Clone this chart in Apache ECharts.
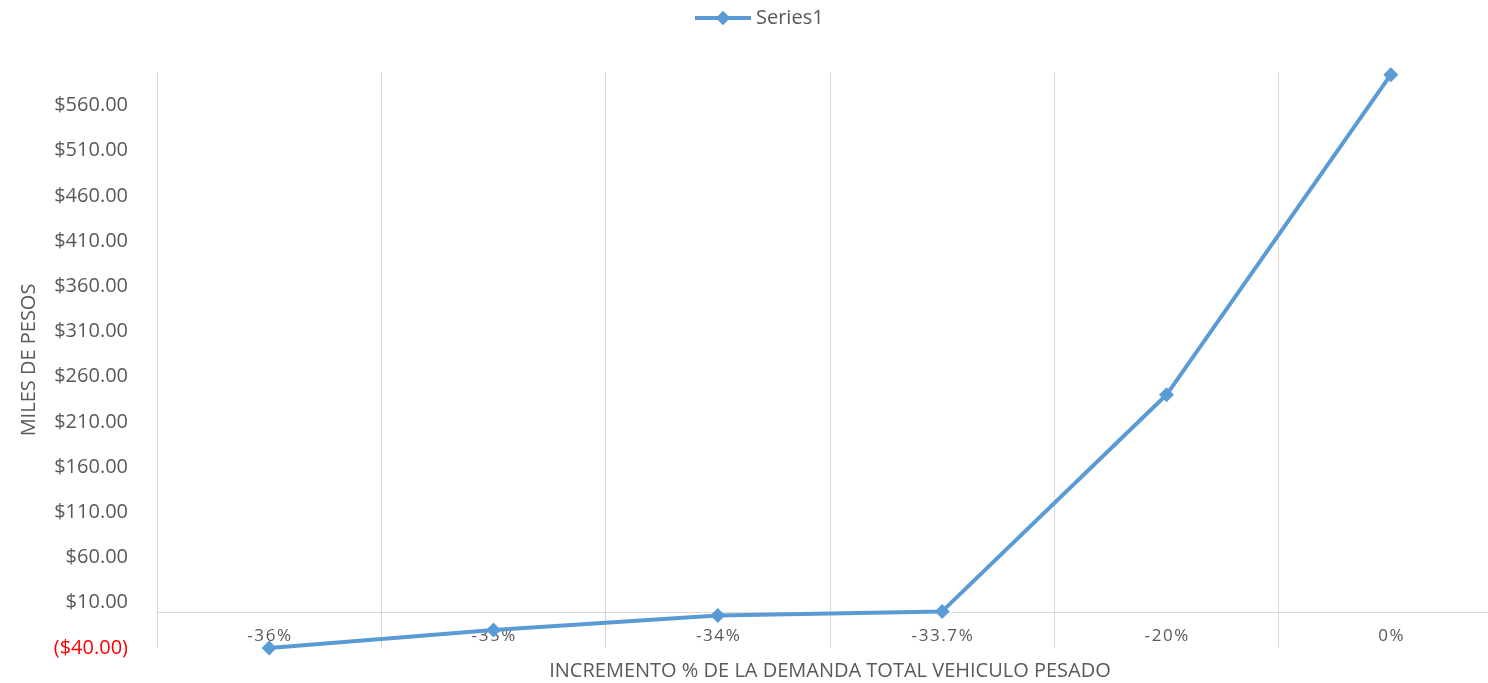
<!DOCTYPE html>
<html>
<head>
<meta charset="utf-8">
<script src="https://cdn.jsdelivr.net/npm/echarts@6/dist/echarts.min.js"></script>
<style>
html,body{margin:0;padding:0;background:#fff;}
#chart{width:1488px;height:683px;}
</style>
</head>
<body>
<div id="chart"></div>
<script>
const categories = ['-36%', '-35%', '-34%', '-33.7%', '-20%', '0%'];
const series1 = [-40, -20, -4, 0.5, 240, 594];
const seriesName = 'Series1';
const xTitle = 'INCREMENTO % DE LA DEMANDA TOTAL VEHICULO PESADO';
const yTitle = 'MILES DE PESOS';

const FONT = '"Open Sans", "Noto Sans", sans-serif';
const chart = echarts.init(document.getElementById('chart'));
chart.setOption({
  animation: false,
  backgroundColor: '#fff',
  textStyle: { fontFamily: FONT },
  legend: {
    top: 3,
    left: 688,
    itemWidth: 56,
    itemHeight: 18,
    itemGap: 4,
    lineStyle: { width: 4 },
    textStyle: { color: '#595959', fontSize: 20, fontFamily: FONT },
    data: [seriesName]
  },
  grid: { left: 157, right: -15, top: 72, bottom: 35, containLabel: false, outerBoundsMode: 'none' },
  xAxis: {
    type: 'category',
    data: categories,
    boundaryGap: true,
    name: xTitle,
    nameLocation: 'middle',
    nameGap: 13,
    nameTextStyle: { color: '#595959', fontSize: 20, fontFamily: FONT },
    axisLine: { onZero: true, lineStyle: { color: '#d9d9d9', width: 1 } },
    axisTick: { show: false },
    axisLabel: {
      interval: 0,
      color: '#595959', fontSize: 17, margin: -20, fontFamily: FONT,
      formatter: function (v) {
        return v.split('').map(function (c) { return '{c|' + c + '}'; }).join('');
      },
      rich: { c: { color: '#595959', fontSize: 17, fontFamily: FONT, padding: [0, 0.8, 0, 0.8] } }
    },
    splitLine: { show: true, interval: 0, lineStyle: { color: '#d9d9d9', width: 1 } }
  },
  yAxis: {
    type: 'value',
    min: -40,
    max: 597,
    interval: 50,
    name: yTitle,
    nameLocation: 'middle',
    nameGap: 118,
    nameTextStyle: { color: '#595959', fontSize: 20, fontFamily: FONT },
    axisLine: { show: false },
    axisTick: { show: false },
    splitLine: { show: false },
    axisLabel: {
      showMaxLabel: false,
      color: '#595959',
      fontSize: 20,
      margin: 29,
      fontFamily: FONT,
      formatter: function (v) {
        if (v < 0) return '{neg|($' + Math.abs(v).toFixed(2) + ')}';
        return '$' + v.toFixed(2);
      },
      rich: { neg: { color: '#ff0000', fontSize: 20, fontFamily: FONT } }
    }
  },
  series: [{
    name: seriesName,
    type: 'line',
    data: series1,
    symbol: 'diamond',
    symbolSize: 15,
    lineStyle: { color: '#5b9bd5', width: 4 },
    itemStyle: { color: '#5b9bd5' },
    clip: false
  }]
});
</script>
</body>
</html>
